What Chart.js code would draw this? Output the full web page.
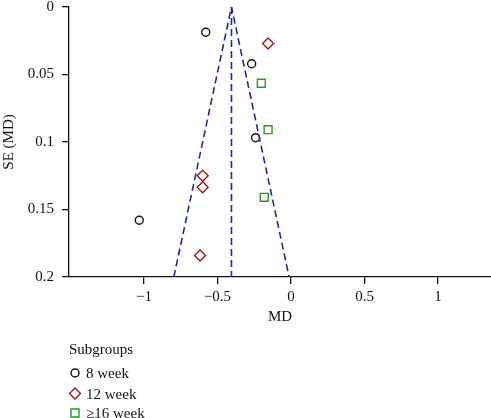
<!DOCTYPE html>
<html>
<head>
<meta charset="utf-8">
<script src="https://cdn.jsdelivr.net/npm/chart.js@4.4.1/dist/chart.umd.min.js"></script>
<style>
  html, body { margin: 0; padding: 0; background: #fff; }
  #wrap { width: 491px; height: 418px; position: relative; }
</style>
</head>
<body>
<div id="wrap"><canvas id="funnel"></canvas></div>
<script>
// values (MD, SE)
const week8 = [
  { x: -0.58, y: 0.0187 },
  { x: -0.268, y: 0.042 },
  { x: -0.241, y: 0.0968 },
  { x: -1.032, y: 0.158 },
];
const week12 = [
  { x: -0.156, y: 0.027 },
  { x: -0.601, y: 0.125 },
  { x: -0.601, y: 0.1336 },
  { x: -0.619, y: 0.184 },
];
const week16 = [
  { x: -0.202, y: 0.0565 },
  { x: -0.156, y: 0.0909 },
  { x: -0.182, y: 0.141 },
];
// funnel outline and pooled estimate
const funnelX = [-0.797, -0.405, -0.013];
const funnelY = [0.2, 0, 0.2];
const pooledX = [-0.405, -0.405];
const pooledY = [0, 0.2];

const xTicks = [-1, -0.5, 0, 0.5, 1];
const yTicks = [0, 0.05, 0.1, 0.15, 0.2];
const legendLabels = ['8 week', '12 week', '\u226516 week'];

const FONT = "'Liberation Serif', 'Times New Roman', serif";
const navy = '#1c2aa0';
const red = '#a31515';
const green = '#1f9e1f';

const toPts = (xs, ys) => xs.map((x, i) => ({ x, y: ys[i] }));

const noEdgePadding = axis => {
  axis.paddingTop = 0;
  axis.paddingBottom = 0;
  axis.paddingLeft = 0;
  axis.paddingRight = 0;
};

// Legend drawn under the axis, vertical like the original
const subgroupLegend = {
  id: 'subgroupLegend',
  afterDraw(chart) {
    const ctx = chart.ctx;
    ctx.save();
    ctx.fillStyle = '#111';
    ctx.font = '15px ' + FONT;
    ctx.textBaseline = 'alphabetic';
    ctx.fillText('Subgroups', 69, 354);
    const rows = [373, 393.5, 413];
    legendLabels.forEach((label, i) => {
      const cy = rows[i];
      const cx = 75;
      ctx.lineWidth = 1.4;
      ctx.beginPath();
      if (i === 0) {
        ctx.strokeStyle = '#111';
        ctx.arc(cx, cy, 4, 0, Math.PI * 2);
      } else if (i === 1) {
        ctx.strokeStyle = red;
        ctx.moveTo(cx, cy - 5.5); ctx.lineTo(cx + 5.5, cy);
        ctx.lineTo(cx, cy + 5.5); ctx.lineTo(cx - 5.5, cy);
        ctx.closePath();
      } else {
        ctx.strokeStyle = green;
        ctx.rect(cx - 4, cy - 4, 8, 8);
      }
      ctx.stroke();
      ctx.fillStyle = '#111';
      ctx.fillText(label, 86, cy + 5);
    });
    ctx.restore();
  }
};

new Chart(document.getElementById('funnel'), {
  type: 'scatter',
  data: {
    datasets: [
      {
        label: 'funnel',
        type: 'line',
        data: toPts(funnelX, funnelY),
        borderColor: navy,
        borderWidth: 1.6,
        borderDash: [7, 4],
        pointRadius: 0,
        fill: false,
        tension: 0,
      },
      {
        label: 'pooled',
        type: 'line',
        data: toPts(pooledX, pooledY),
        borderColor: navy,
        borderWidth: 1.6,
        borderDash: [7, 4],
        pointRadius: 0,
        fill: false,
      },
      {
        label: legendLabels[0],
        data: week8,
        pointStyle: 'circle',
        pointRadius: 4,
        borderColor: '#111',
        borderWidth: 1.4,
        backgroundColor: 'rgba(0,0,0,0)',
      },
      {
        label: legendLabels[1],
        data: week12,
        pointStyle: 'rectRot',
        pointRadius: 5.5,
        borderColor: red,
        borderWidth: 1.4,
        backgroundColor: 'rgba(0,0,0,0)',
      },
      {
        label: legendLabels[2],
        data: week16,
        pointStyle: 'rect',
        pointRadius: 5.6,
        borderColor: green,
        borderWidth: 1.4,
        backgroundColor: 'rgba(0,0,0,0)',
      },
    ],
  },
  options: {
    responsive: true,
    maintainAspectRatio: false,
    animation: false,
    layout: { autoPadding: false, padding: { top: 7, right: 0, bottom: 92, left: 0 } },
    plugins: {
      legend: { display: false },
      tooltip: { enabled: false },
    },
    scales: {
      x: {
        type: 'linear',
        min: -1.51,
        max: 1.36,
        afterBuildTicks: axis => { axis.ticks = xTicks.map(v => ({ value: v })); },
        afterFit: axis => { axis.height = 49; noEdgePadding(axis); },
        border: { display: true, color: '#111', width: 1.3 },
        grid: { display: true, drawOnChartArea: false, drawTicks: true, tickLength: 7, color: '#111', lineWidth: 1.3 },
        ticks: {
          color: '#111',
          font: { family: FONT, size: 15 },
          padding: 4,
          maxRotation: 0,
          callback: v => String(v).replace('-', '\u2212'),
        },
        title: {
          display: true,
          text: 'MD',
          color: '#111',
          font: { family: FONT, size: 15 },
          padding: { top: 2, bottom: 0 },
        },
      },
      y: {
        type: 'linear',
        reverse: true,
        min: 0,
        max: 0.2,
        afterBuildTicks: axis => { axis.ticks = yTicks.map(v => ({ value: v })); },
        afterFit: axis => { axis.width = 69; noEdgePadding(axis); },
        border: { display: true, color: '#111', width: 1.3 },
        grid: { display: true, drawOnChartArea: false, drawTicks: true, tickLength: 7, color: '#111', lineWidth: 1.3 },
        ticks: {
          color: '#111',
          font: { family: FONT, size: 15 },
          padding: 8,
          callback: v => String(v),
        },
        title: {
          display: true,
          text: 'SE (MD)',
          color: '#111',
          font: { family: FONT, size: 15 },
          padding: { top: 0, bottom: 4 },
        },
      },
    },
  },
  plugins: [subgroupLegend],
});
</script>
</body>
</html>
